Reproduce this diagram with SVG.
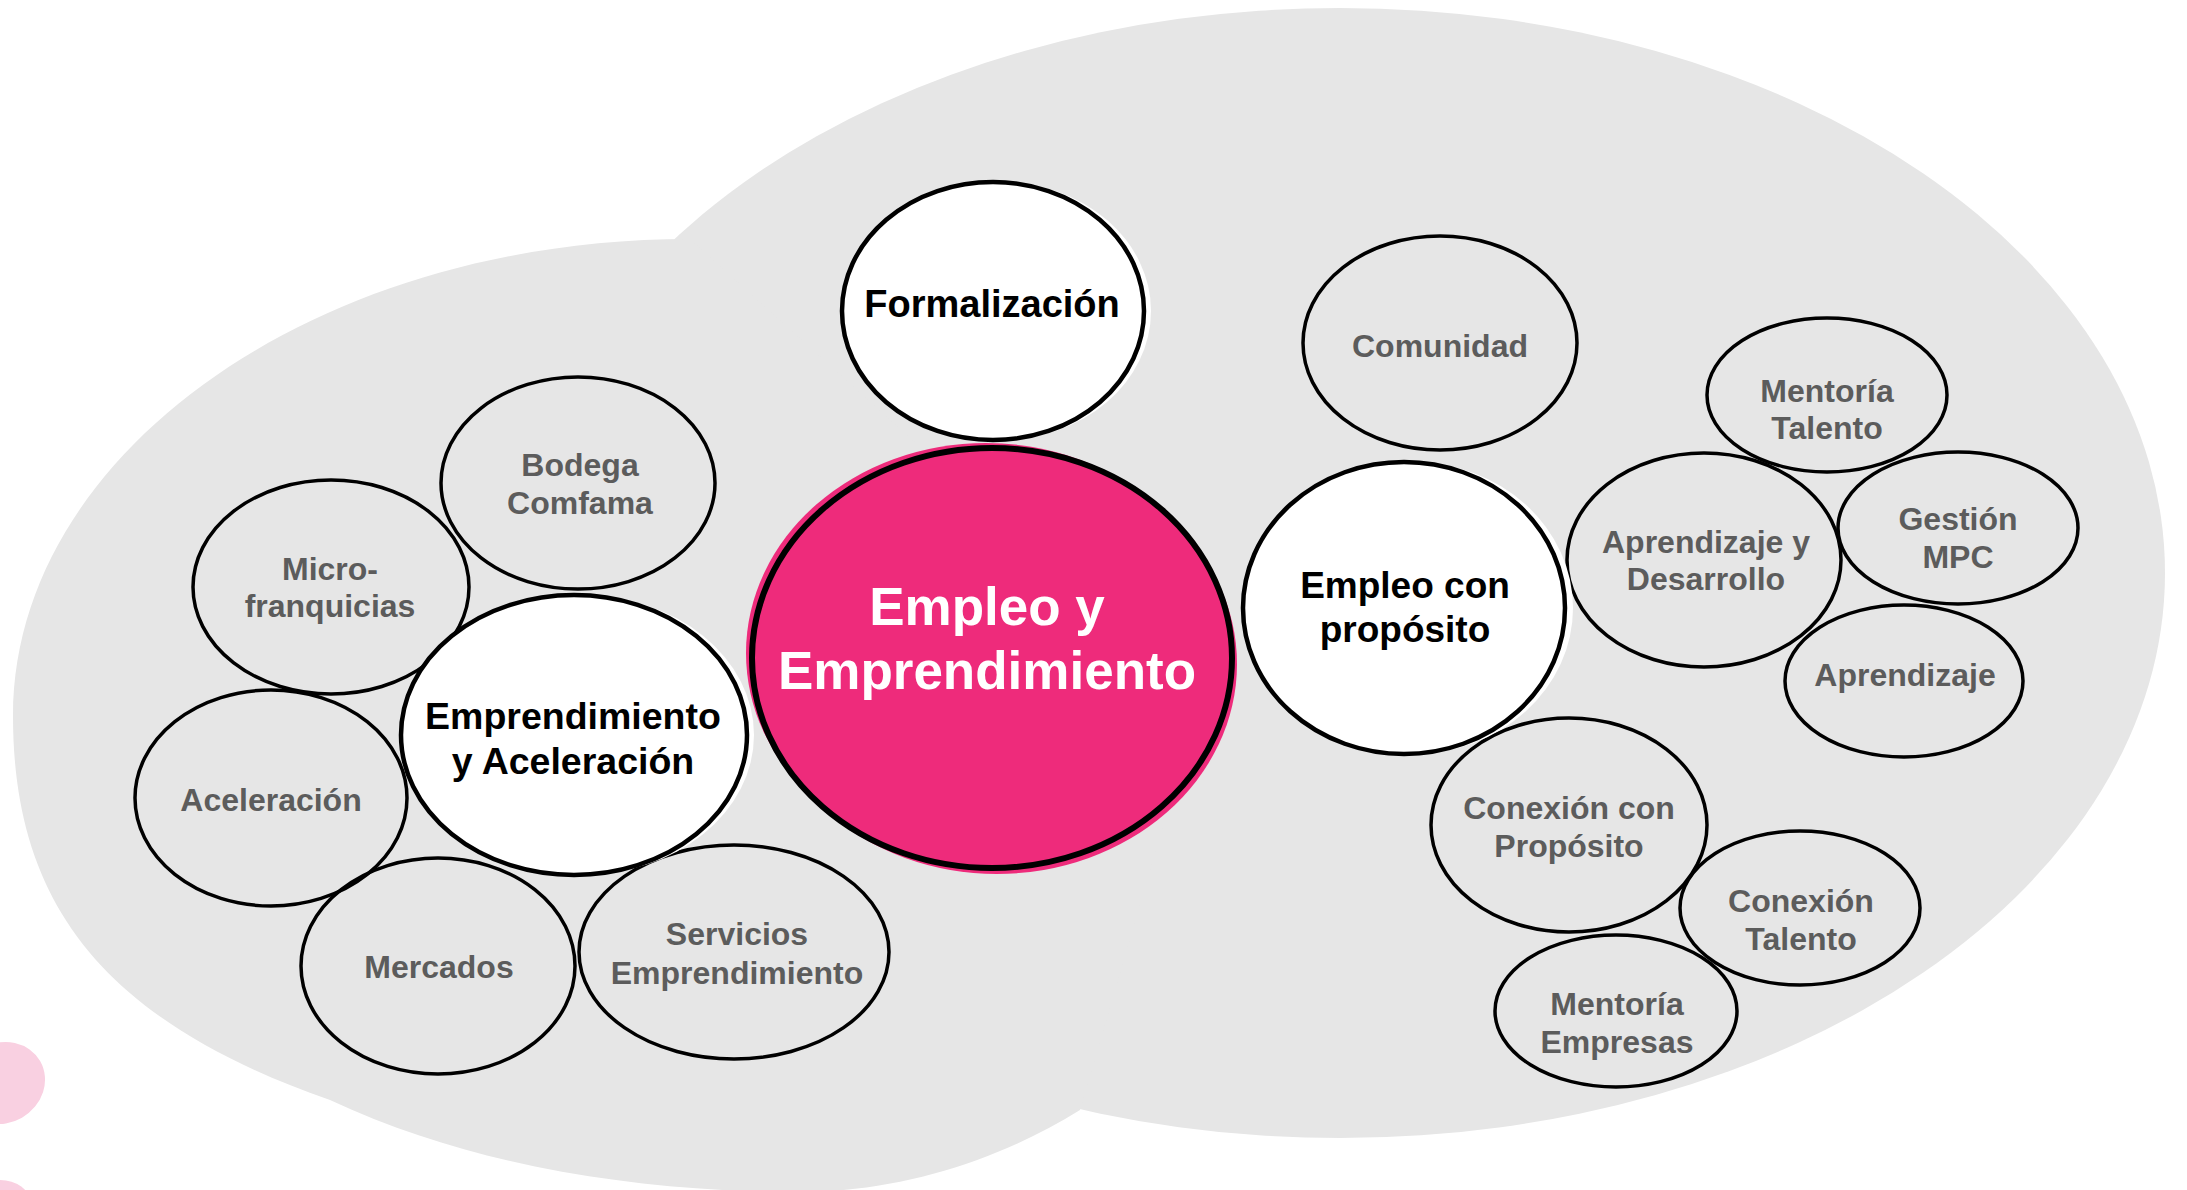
<svg xmlns="http://www.w3.org/2000/svg" width="2187" height="1190" viewBox="0 0 2187 1190">
<style>
.bg{fill:#e6e6e6}
.blob{fill:#f9d0e1}
.sub{fill:none;stroke:#000;stroke-width:3.5}
.main{fill:#fff;stroke:#000;stroke-width:4.5}
.halo{fill:#fff}
.core{fill:#ee2b7b;stroke:#000;stroke-width:6}
.corefill{fill:#ee2b7b}
text{font-family:"Liberation Sans",Arial,sans-serif;font-weight:bold;text-anchor:middle}
.t-sub{font-size:32px;fill:#5c5c5c}
.t-main{fill:#000}
.t-core{font-size:53px;fill:#fff}
</style>
<g id="background">
<ellipse class="bg" cx="1340" cy="573" rx="825" ry="565"/>
<path class="bg" d="M690,239 C316,239 13,453 13,716 C13,900 100,1020 330,1100 C480,1170 650,1192 800,1192 C900,1192 1000,1160 1080,1110 L1200,700 Z"/>
<ellipse class="blob" cx="2" cy="1083" rx="44" ry="40" transform="rotate(-30 2 1083)"/>
<ellipse class="blob" cx="0" cy="1202" rx="30" ry="22"/>
</g>
<g id="connectors"></g>
<g id="node-comunidad"><ellipse class="sub" cx="1440" cy="343" rx="137" ry="107"/><text class="t-sub" x="1440" y="357">Comunidad</text></g>
<g id="node-mentoria-talento"><ellipse class="sub" cx="1827" cy="395" rx="120" ry="77"/><text class="t-sub" x="1827" y="402">Mentoría</text><text class="t-sub" x="1827" y="439">Talento</text></g>
<g id="node-aprendizaje-desarrollo"><ellipse class="sub" cx="1704" cy="560" rx="137" ry="107"/><text class="t-sub" x="1706" y="553">Aprendizaje y</text><text class="t-sub" x="1706" y="590">Desarrollo</text></g>
<g id="node-gestion-mpc"><ellipse class="sub" cx="1958" cy="528" rx="120" ry="76"/><text class="t-sub" x="1958" y="530">Gestión</text><text class="t-sub" x="1958" y="568">MPC</text></g>
<g id="node-aprendizaje"><ellipse class="sub" cx="1904" cy="681" rx="119" ry="76"/><text class="t-sub" x="1905" y="686">Aprendizaje</text></g>
<g id="node-conexion-proposito"><ellipse class="sub" cx="1569" cy="825" rx="138" ry="107"/><text class="t-sub" x="1569" y="819">Conexión con</text><text class="t-sub" x="1569" y="857">Propósito</text></g>
<g id="node-conexion-talento"><ellipse class="sub" cx="1800" cy="908" rx="120" ry="77"/><text class="t-sub" x="1801" y="912">Conexión</text><text class="t-sub" x="1801" y="950">Talento</text></g>
<g id="node-mentoria-empresas"><ellipse class="sub" cx="1616" cy="1011" rx="121" ry="76"/><text class="t-sub" x="1617" y="1015">Mentoría</text><text class="t-sub" x="1617" y="1053">Empresas</text></g>
<g id="node-bodega"><ellipse class="sub" cx="578" cy="483" rx="137" ry="106"/><text class="t-sub" x="580" y="476">Bodega</text><text class="t-sub" x="580" y="514">Comfama</text></g>
<g id="node-microfranquicias"><ellipse class="sub" cx="331" cy="587" rx="138" ry="107"/><text class="t-sub" x="330" y="580">Micro-</text><text class="t-sub" x="330" y="617">franquicias</text></g>
<g id="node-aceleracion"><ellipse class="sub" cx="271" cy="798" rx="136" ry="108"/><text class="t-sub" x="271" y="811">Aceleración</text></g>
<g id="node-mercados"><ellipse class="sub" cx="438" cy="966" rx="137" ry="108"/><text class="t-sub" x="439" y="978">Mercados</text></g>
<g id="node-servicios"><ellipse class="sub" cx="734" cy="952" rx="155" ry="107"/><text class="t-sub" x="737" y="945">Servicios</text><text class="t-sub" x="737" y="984">Emprendimiento</text></g>
<g id="node-formalizacion"><ellipse class="halo" cx="1000" cy="311" rx="151" ry="129"/><ellipse class="main" cx="993" cy="311" rx="151" ry="129"/><text class="t-main" x="992" y="317" font-size="38">Formalización</text></g>
<g id="node-empleo-proposito"><ellipse class="halo" cx="1412" cy="608" rx="161" ry="146"/><ellipse class="main" cx="1404" cy="608" rx="161" ry="146"/><text class="t-main" x="1405" y="598" font-size="37">Empleo con</text><text class="t-main" x="1405" y="642" font-size="37">propósito</text></g>
<g id="node-emprendimiento-aceleracion"><ellipse class="halo" cx="581" cy="735" rx="173" ry="140"/><ellipse class="main" cx="574" cy="735" rx="173" ry="140"/><text class="t-main" x="573" y="729" font-size="37.5">Emprendimiento</text><text class="t-main" x="573" y="774" font-size="37.5">y Aceleración</text></g>
<g id="node-empleo-emprendimiento"><ellipse class="corefill" cx="986" cy="653" rx="240" ry="210"/><ellipse class="corefill" cx="997" cy="664" rx="240" ry="210"/><ellipse class="core" cx="992" cy="658" rx="240" ry="210"/><text class="t-core" x="987" y="625">Empleo y</text><text class="t-core" x="987" y="689">Emprendimiento</text></g>
</svg>
